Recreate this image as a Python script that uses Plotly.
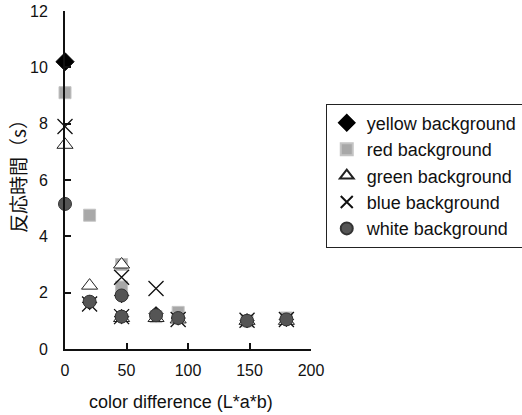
import plotly.graph_objects as go

# color difference (L*a*b) per measurement
x_vals = [0, 20, 46, 46, 74, 92, 148, 180]

yellow = [10.2, 1.65, 1.9, 1.15, 1.25, 1.1, 1.0, 1.05]
red = [9.1, 4.75, 3.0, 2.2, 1.15, 1.3, 1.0, 1.1]
green = [7.25, 2.25, 3.0, 1.1, 1.1, 1.05, 1.0, 1.0]
blue = [7.9, 1.6, 2.55, 1.15, 2.15, 1.05, 1.02, 1.05]
white = [5.15, 1.68, 1.9, 1.15, 1.2, 1.1, 1.0, 1.05]

names = ["yellow background", "red background", "green background",
         "blue background", "white background"]

x_ticks = [0, 50, 100, 150, 200]
y_ticks = [0, 2, 4, 6, 8, 10, 12]

# hidden yellow diamonds sit mostly under the circles
yellow_sizes = [14] + [11] * (len(yellow) - 1)

fig = go.Figure()
fig.add_trace(go.Scatter(x=x_vals, y=yellow, mode="markers", name=names[0],
                         cliponaxis=False,
                         marker=dict(symbol="diamond", size=yellow_sizes, color="#000000",
                                     opacity=1, line=dict(color="#000000", width=1))))
fig.add_trace(go.Scatter(x=x_vals, y=red, mode="markers", name=names[1],
                         cliponaxis=False,
                         marker=dict(symbol="square", size=12, color="#a8a8a8", opacity=1,
                                     line=dict(color="#c4c4c4", width=1))))
fig.add_trace(go.Scatter(x=x_vals, y=green, mode="markers", name=names[2],
                         cliponaxis=False,
                         marker=dict(symbol="triangle-up", size=14, color="white", opacity=1,
                                     line=dict(color="#222222", width=1))))
fig.add_trace(go.Scatter(x=x_vals, y=blue, mode="markers", name=names[3],
                         cliponaxis=False,
                         marker=dict(symbol="x-thin-open", size=15, color="#111111", opacity=1,
                                     line=dict(color="#111111", width=1.3))))
fig.add_trace(go.Scatter(x=x_vals, y=white, mode="markers", name=names[4],
                         cliponaxis=False,
                         marker=dict(symbol="circle", size=13, color="#555555", opacity=1,
                                     line=dict(color="#333333", width=1))))

base_font = dict(family="Liberation Sans, Arial, sans-serif", size=16, color="#111111")

fig.update_layout(
    width=522, height=415,
    margin=dict(l=65, r=211, t=11, b=66, autoexpand=False),
    plot_bgcolor="white", paper_bgcolor="white",
    font=base_font,
    showlegend=True,
    legend=dict(x=1.06, y=0.30, xanchor="left", yanchor="bottom",
                bordercolor="#222222", borderwidth=1,
                font=dict(family="Liberation Sans, Arial, sans-serif", size=18, color="#111111"),
                itemsizing="constant", itemwidth=30, tracegroupgap=0),
    xaxis=dict(range=[0, 200], tickvals=x_ticks,
               showline=True, linecolor="#111111", linewidth=2,
               ticks="inside", ticklen=6, tickwidth=2, tickcolor="#111111",
               showgrid=False, zeroline=False, ticklabelstandoff=6),
    yaxis=dict(range=[0, 12], tickvals=y_ticks,
               showline=True, linecolor="#111111", linewidth=2,
               ticks="inside", ticklen=6, tickwidth=2, tickcolor="#111111",
               showgrid=False, zeroline=False, ticklabelstandoff=12),
    annotations=[
        dict(text="color difference (L*a*b)", xref="paper", yref="paper",
             x=0.4715, y=-0.157, xanchor="center", yanchor="middle",
             showarrow=False, font=dict(family="Liberation Sans, Arial, sans-serif",
                                        size=18, color="#111111")),
        dict(text="反応時間（s）", xref="paper", yref="paper",
             x=-0.191, y=0.524, xanchor="center", yanchor="middle", textangle=-90,
             showarrow=False, font=dict(family="Noto Sans CJK JP, sans-serif",
                                        size=19, color="#111111")),
    ],
)

fig.write_html("out.html")
